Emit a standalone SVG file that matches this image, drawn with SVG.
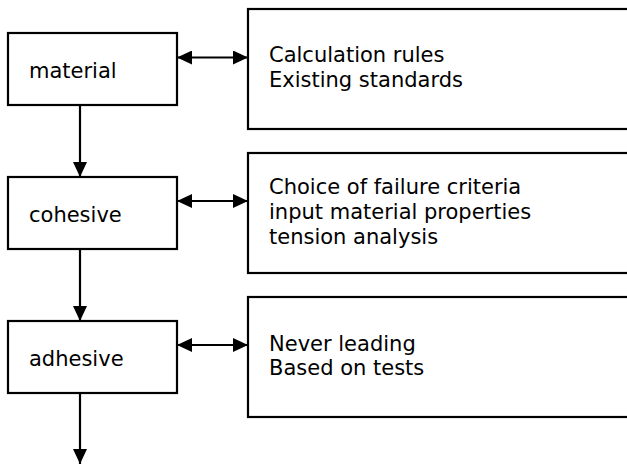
<svg xmlns="http://www.w3.org/2000/svg" width="627" height="465" viewBox="0 0 627 465">
<defs>
<style>
.box{fill:#fff;stroke:#000;stroke-width:2.2}
.t{font-family:"DejaVu Sans",Verdana,sans-serif;font-size:21px;fill:#000}
.c{stroke:#000;stroke-width:2.2;fill:none}
</style>
<marker id="ah" viewBox="0 0 15 14" refX="15" refY="7" markerWidth="15" markerHeight="14" markerUnits="userSpaceOnUse" orient="auto-start-reverse">
<path d="M0,0 L15,7 L0,14 Z" fill="#000"/>
</marker>
</defs>
<rect width="627" height="465" fill="#fff"/>
<g id="n-material"><rect class="box" x="8" y="33" width="169" height="72"/><text class="t" x="29" y="78">material</text></g>
<g id="n-cohesive"><rect class="box" x="8" y="177" width="169" height="72"/><text class="t" x="29" y="222">cohesive</text></g>
<g id="n-adhesive"><rect class="box" x="8" y="321" width="169" height="72"/><text class="t" x="29" y="366">adhesive</text></g>
<g id="n-rules"><rect class="box" x="248" y="9" width="400" height="120"/><text class="t" x="269" y="62">Calculation rules</text><text class="t" x="269" y="86.5">Existing standards</text></g>
<g id="n-criteria"><rect class="box" x="248" y="153" width="400" height="120"/><text class="t" x="269" y="194">Choice of failure criteria</text><text class="t" x="269" y="219">input material properties</text><text class="t" x="269" y="244">tension analysis</text></g>
<g id="n-tests"><rect class="box" x="248" y="297" width="400" height="120"/><text class="t" x="269" y="350.5">Never leading</text><text class="t" x="269" y="375">Based on tests</text></g>
<g id="connectors">
<line class="c" x1="177" y1="57.5" x2="248" y2="57.5" marker-start="url(#ah)" marker-end="url(#ah)"/>
<line class="c" x1="177" y1="201" x2="248" y2="201" marker-start="url(#ah)" marker-end="url(#ah)"/>
<line class="c" x1="177" y1="345" x2="248" y2="345" marker-start="url(#ah)" marker-end="url(#ah)"/>
<line class="c" x1="80" y1="105" x2="80" y2="177" marker-end="url(#ah)"/>
<line class="c" x1="80" y1="249" x2="80" y2="321" marker-end="url(#ah)"/>
<line class="c" x1="80" y1="393" x2="80" y2="464" marker-end="url(#ah)"/>
</g>
</svg>
